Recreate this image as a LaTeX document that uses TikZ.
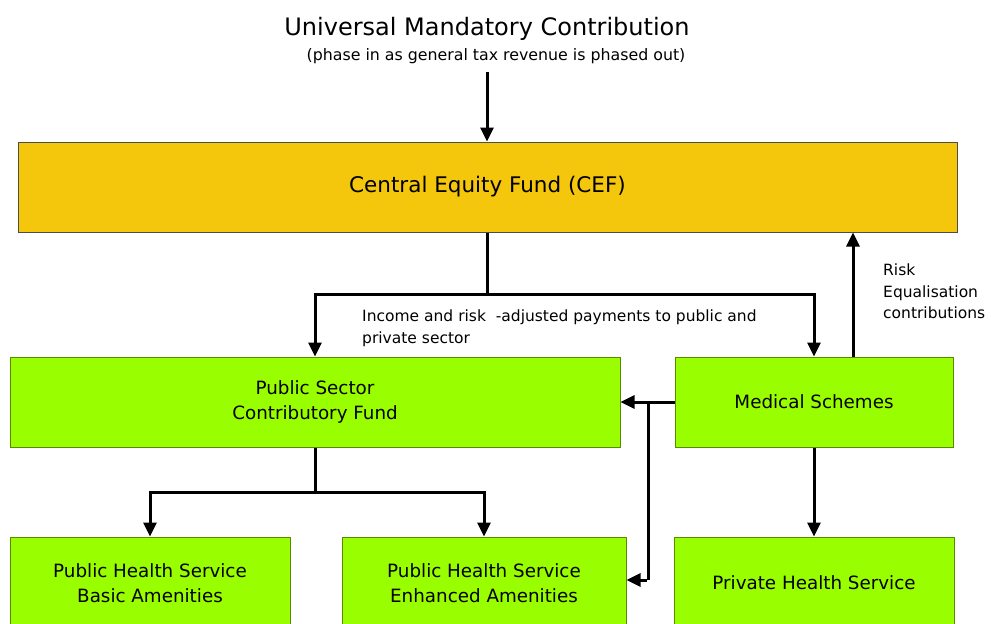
\documentclass[tikz,border=0pt]{standalone}
\usepackage{fontspec}
\setmainfont{DejaVu Sans}
\usetikzlibrary{arrows.meta,positioning,calc}
\definecolor{cefgold}{HTML}{F4C60C}
\definecolor{boxgreen}{HTML}{99FF00}
\definecolor{boxline}{HTML}{5A8A00}

\begin{document}
\begin{tikzpicture}[x=1pt,y=-1pt,
    flow/.style={line width=3pt,-{Triangle[length=14pt,width=13pt]}},
    line/.style={line width=3pt},
    fund/.style={draw=boxline,line width=1pt,fill=boxgreen,minimum height=90pt,
      align=center,font=\fontsize{18.3}{25}\selectfont,inner sep=0pt},
    note/.style={align=left,font=\fontsize{15.5}{21.5}\selectfont,inner sep=0pt,anchor=north west}]
  \useasboundingbox (0,0) rectangle (991,624);
  \clip (0,0) rectangle (991,624);

  % title
  \node (title) at (487,29) {\fontsize{24}{28}\selectfont Universal Mandatory Contribution};
  \node (sub) at (496,56) {\fontsize{15.8}{18}\selectfont (phase in as general tax revenue is phased out)};

  % boxes
  \node[fund,fill=cefgold,draw=black!70,minimum width=939pt,font=\fontsize{21.5}{25}\selectfont]
    (cef) at (487.5,187) {Central Equity Fund (CEF)};
  \node[fund,minimum width=610pt] (psf) at (315,402) {Public Sector\\Contributory Fund};
  \node[fund,minimum width=278pt] (med) at (814,402) {Medical Schemes};
  \node[fund,minimum width=280pt,minimum height=92pt] (basic) at (150,583) {Public Health Service\\Basic Amenities};
  \node[fund,minimum width=284pt,minimum height=92pt] (enh) at (484,583) {Public Health Service\\Enhanced Amenities};
  \node[fund,minimum width=280pt,minimum height=92pt] (priv) at (814,583) {Private Health Service};

  % connectors
  \coordinate (top) at (487,72);
  \draw[flow] (top) -- (cef.north -| top);

  \coordinate (split) at (487,294);
  \draw[line] (cef.south -| split) -- (split);
  \draw[flow] (split) -| (psf.north);
  \draw[flow] (split) -| (med.north);
  \node[note] (pay) at (362,310) {Income and risk \ -adjusted payments to public and\\private sector};

  \coordinate (risk) at (853,0);
  \draw[flow] (med.north -| risk) -- (cef.south -| risk);
  \node[note] (rlab) at (883,264) {Risk\\Equalisation\\contributions};

  \coordinate (fork) at (648,402);
  \draw[flow] (med.west) -- (psf.east);
  \draw[line] (fork) -- (648,580);
  \draw[flow] (646.5,580) -- (enh.east |- 0,580);

  \coordinate (split2) at (315,492);
  \draw[line] (psf.south) -- (split2);
  \draw[flow] (split2) -| (basic.north);
  \draw[flow] (split2) -| (enh.north);
  \draw[flow] (med.south) -- (priv.north);
\end{tikzpicture}
\end{document}
